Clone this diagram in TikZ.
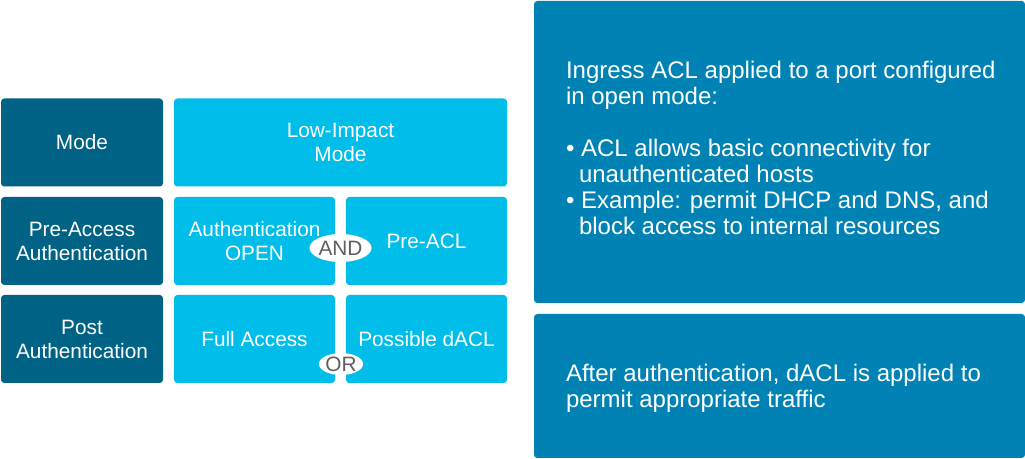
\documentclass[tikz,border=0pt]{standalone}
\usepackage{fontspec}
\setmainfont{Liberation Sans}
\usepackage{tikz}
\usetikzlibrary{shapes.geometric}
\definecolor{darkblue}{HTML}{006385}
\definecolor{lightblue}{HTML}{00BDEA}
\definecolor{midblue}{HTML}{0083B4}
\definecolor{opgray}{HTML}{5F5F5F}
\begin{document}
\begin{tikzpicture}[x=0.75pt, y=-0.75pt,
	leftbox/.style={fill=darkblue, text=white, rounded corners=2.5pt, minimum width=121.5pt, minimum height=66pt, align=center, inner sep=0pt, font=\fontsize{15.6}{18}\selectfont},
	cellbox/.style={fill=lightblue, text=white, rounded corners=2.5pt, minimum width=120.75pt, minimum height=66pt, align=center, inner sep=0pt, font=\fontsize{15.6}{18}\selectfont},
	infobox/.style={fill=midblue, rounded corners=2.5pt, minimum width=368.25pt, inner sep=0pt},
	infotext/.style={text=white, anchor=west, align=left, inner sep=0pt, font=\fontsize{18}{19.5}\selectfont},
	opoval/.style={ellipse, fill=white, text=opgray, inner sep=0pt, font=\fontsize{15.6}{18}\selectfont}]
			\useasboundingbox (0,0) rectangle (1025,459);
			\node[leftbox] (mode) at (82,142.5) {Mode};
			\node[leftbox] (preacc) at (82,241) {Pre-Access\\Authentication};
			\node[leftbox] (postauth) at (82,339) {Post\\Authentication};
			\node[cellbox, minimum width=249.75pt] (lowimp) at (340.5,142.5) {Low-Impact\\Mode};
			\node[cellbox] (authopen) at (254.5,241) {Authentication\\OPEN};
			\node[cellbox] (preacl) at (426.5,241) {Pre-ACL};
			\node[cellbox] (fullacc) at (254.5,339) {Full Access};
			\node[cellbox] (dacl) at (426.5,339) {Possible dACL};
			\node[opoval, minimum width=38pt, minimum height=21pt] (and) at (340.5,248) {AND};
			\node[opoval, minimum width=31.5pt, minimum height=16.5pt] (or) at (341,364) {OR};

			\node[infobox, minimum height=226.5pt] (ingress) at (779.5,152) {};
			\node[infotext] (ingresstxt) at ([xshift=24pt, yshift=3pt]ingress.west) {Ingress ACL applied to a port configured\\in open mode:\\[19.5pt]
				\textbullet\ ACL allows basic connectivity for\\\hspace*{9.75pt}unauthenticated hosts\\
				\textbullet\ Example: permit DHCP and DNS, and\\\hspace*{9.75pt}block access to internal resources};
			\node[infobox, minimum height=108pt] (after) at (779.5,386) {};
			\node[infotext] (aftertxt) at ([xshift=24pt, yshift=-2pt]after.west) {After authentication, dACL is applied to\\permit appropriate traffic};
		\end{tikzpicture}
\end{document}
